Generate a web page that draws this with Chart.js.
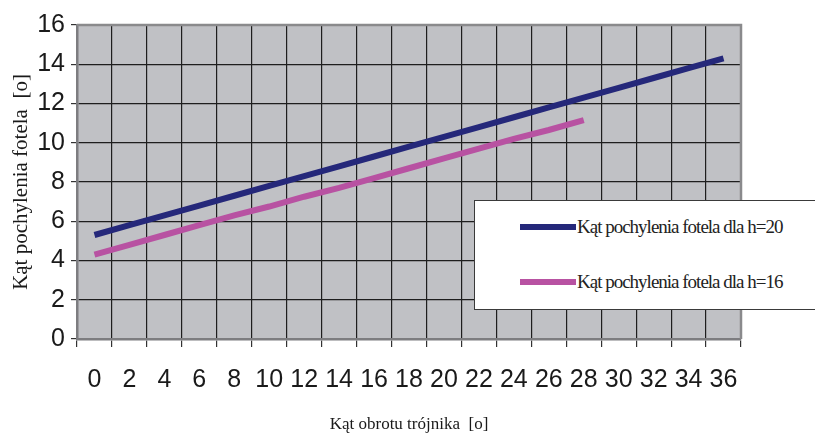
<!DOCTYPE html>
<html>
<head>
<meta charset="utf-8">
<script src="https://cdn.jsdelivr.net/npm/chart.js@4/dist/chart.umd.min.js"></script>
<style>
  html, body { margin: 0; padding: 0; background: #ffffff; }
  #wrap { position: relative; width: 815px; height: 437px; overflow: hidden; }
  #legend { position: absolute; left: 474px; top: 200px; width: 345px; height: 110px;
    background: #ffffff; border: 1.5px solid #3a3a3a; box-sizing: border-box; }
  .item { position: absolute; left: 45px; height: 24px; display: flex; align-items: center; }
  .swatch { width: 56px; height: 6px; margin-right: 1px; }
  .lbl { font-family: "Liberation Serif", "DejaVu Serif", serif; font-size: 19px; letter-spacing: -1px; color: #222; white-space: nowrap; }
</style>
</head>
<body>
<div id="wrap">
  <canvas id="c" width="815" height="437"></canvas>
  <div id="legend"></div>
</div>
<script>
const categories = ['0','2','4','6','8','10','12','14','16','18','20','22','24','26','28','30','32','34','36'];
const seriesH20 = [5.3,5.8,6.3,6.8,7.3,7.8,8.3,8.8,9.3,9.8,10.3,10.8,11.3,11.8,12.3,12.8,13.3,13.8,14.3];
const seriesH16 = [4.3,4.8,5.3,5.8,6.3,6.75,7.25,7.7,8.2,8.7,9.2,9.7,10.2,10.65,11.15];
const seriesLabels = ['Kąt pochylenia fotela dla h=20','Kąt pochylenia fotela dla h=16'];
const seriesColors = ['#25287a','#b852a2'];
const yTicks = [0,2,4,6,8,10,12,14,16];
const xTitle = 'Kąt obrotu trójnika  [o]';
const yTitle = 'Kąt pochylenia fotela  [o]';

const plotBg = {
  id: 'plotBg',
  beforeDraw(chart) {
    const {ctx, chartArea: a} = chart;
    ctx.save();
    ctx.fillStyle = '#c0c1c5';
    ctx.fillRect(a.left, a.top, a.right - a.left, a.bottom - a.top);
    ctx.restore();
  },
  afterDraw(chart) {
    const {ctx, chartArea: a} = chart;
    ctx.save();
    ctx.strokeStyle = '#8a8a8c';
    ctx.lineWidth = 2.5;
    ctx.beginPath();
    ctx.moveTo(a.left, a.top);
    ctx.lineTo(a.right, a.top);
    ctx.lineTo(a.right, a.bottom);
    ctx.stroke();
    ctx.restore();
  }
};

const chart = new Chart(document.getElementById('c'), {
  type: 'line',
  data: {
    labels: categories,
    datasets: [
      { label: seriesLabels[0], data: seriesH20, borderColor: seriesColors[0], backgroundColor: seriesColors[0], borderWidth: 6, pointRadius: 0, tension: 0, borderCapStyle: 'butt' },
      { label: seriesLabels[1], data: seriesH16, borderColor: seriesColors[1], backgroundColor: seriesColors[1], borderWidth: 6, pointRadius: 0, tension: 0, borderCapStyle: 'butt' }
    ]
  },
  options: {
    responsive: false,
    devicePixelRatio: 1,
    animation: false,
    layout: { padding: { left: 0, right: 74, top: 25, bottom: 0 } },
    plugins: { legend: { display: false }, tooltip: { enabled: false } },
    scales: {
      x: {
        type: 'category',
        offset: true,
        grid: { offset: true, color: '#1e1e1e', lineWidth: 1.2, tickLength: 8, drawTicks: true, tickColor: '#333' },
        border: { color: '#7d7d80', width: 2.5 },
        ticks: { color: '#1a1a1a', font: { family: 'Liberation Sans, Arial, sans-serif', size: 25 }, padding: 18, maxRotation: 0, autoSkip: false },
        title: { display: true, text: xTitle, color: '#1a1a1a', font: { family: 'Liberation Serif, serif', size: 17 }, padding: { top: 0, bottom: 2 } },
        afterFit(s) { s.height = 98; }
      },
      y: {
        min: 0, max: 16,
        afterBuildTicks(s) { s.ticks = yTicks.map(v => ({ value: v })); },
        grid: { color: '#1e1e1e', lineWidth: 1.2, tickLength: 6, tickColor: '#333' },
        border: { color: '#7d7d80', width: 2.5 },
        ticks: { color: '#1a1a1a', font: { family: 'Liberation Sans, Arial, sans-serif', size: 25 }, padding: 6 },
        title: { display: true, text: yTitle, color: '#1a1a1a', font: { family: 'Liberation Serif, serif', size: 21 }, padding: { top: 9, bottom: 0 } },
        afterFit(s) { s.width = 77; }
      }
    }
  },
  plugins: [plotBg]
});

// HTML legend built from the dataset labels/colours
const leg = document.getElementById('legend');
chart.data.datasets.forEach((ds, i) => {
  const it = document.createElement('div');
  it.className = 'item';
  it.style.top = (i === 0 ? 14 : 69) + 'px';
  const sw = document.createElement('div');
  sw.className = 'swatch';
  sw.style.background = ds.borderColor;
  const tx = document.createElement('span');
  tx.className = 'lbl';
  tx.textContent = ds.label;
  it.appendChild(sw); it.appendChild(tx);
  leg.appendChild(it);
});
</script>
</body>
</html>
